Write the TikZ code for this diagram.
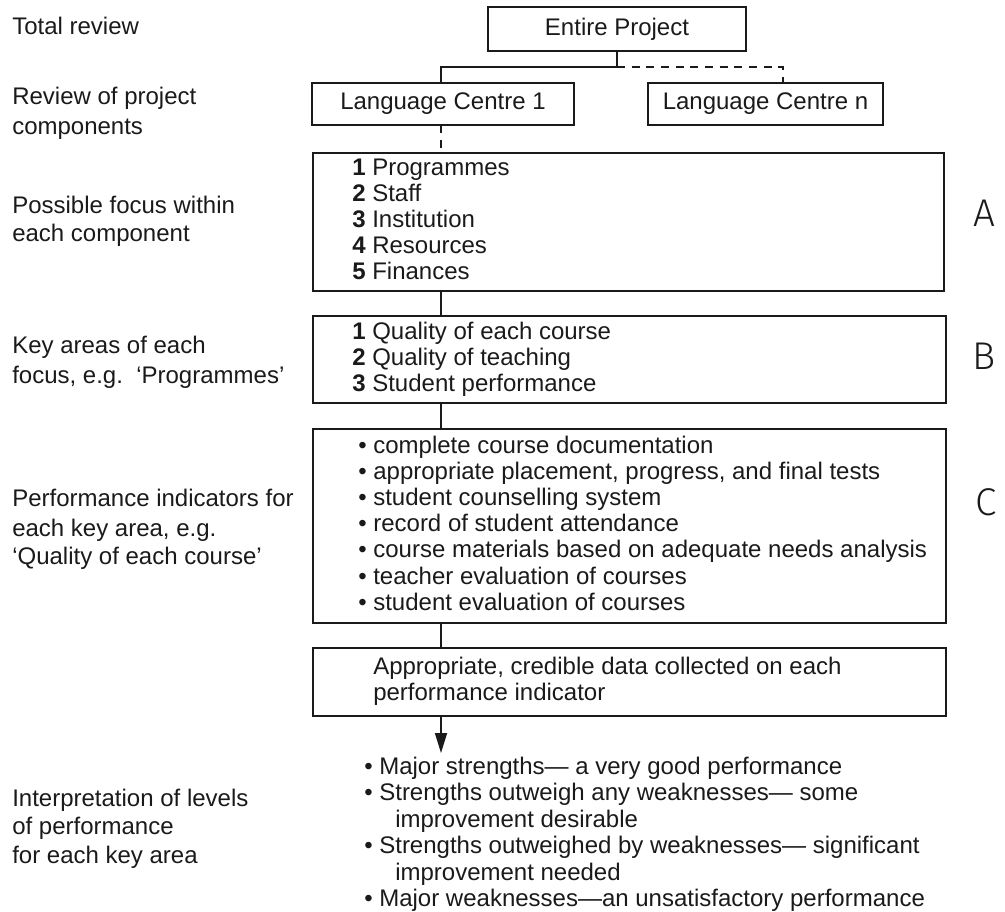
\documentclass[tikz,border=0pt]{standalone}
\usepackage{fontspec}
\setmainfont{Liberation Sans}
\newfontfamily\handfont{Fira Sans Light}
\usetikzlibrary{arrows.meta,fit}
\definecolor{ink}{HTML}{1A1A1A}
\newcommand\txtsize{\fontsize{18pt}{20pt}\selectfont}

\begin{document}
\begin{tikzpicture}[x=0.75pt,y=-0.75pt,
  box/.style={draw=ink,line width=1.2pt,inner sep=0pt,outer sep=0pt},
  conn/.style={draw=ink,line width=1.2pt},
  dashconn/.style={draw=ink,line width=1.2pt,dash pattern=on 6pt off 5pt},
  txt/.style={text=ink,inner sep=0pt,font=\txtsize},
  linetxt/.style={txt,anchor=base west},
  hand/.style={text=ink,inner sep=0pt,font=\handfont\fontsize{29pt}{30pt}\selectfont}]
\useasboundingbox (0,0) rectangle (1005,911);

% ---- boxes of the hierarchy ----
\node[box,fit={(488,7)(746,51)}] (ep) {};
\node[txt] (eptext) at (ep.center) {Entire Project};
\node[box,fit={(312,83)(574,125)}] (lc1) {};
\node[txt] (lc1text) at (lc1.center) {Language Centre 1};
\node[box,fit={(648,83)(883,125)}] (lcn) {};
\node[txt] (lcntext) at (lcn.center) {Language Centre n};
\node[box,fit={(313,153)(944,291)}] (boxa) {};
\node[box,fit={(313,316)(946,403)}] (boxb) {};
\node[box,fit={(313,429)(946,623)}] (boxc) {};
\node[box,fit={(313,648)(946,716)}] (boxd) {};

% ---- connectors ----
\coordinate (jx) at (441,67);
\coordinate (jn) at (783,67);
\coordinate (sx) at (441,0);
\coordinate (tip) at (441,753);
\draw[conn] (ep.south) |- (jx) -- (jx |- lc1.north);
\draw[dashconn] (ep.south |- jx) -- (jn) -- (jn |- lcn.north);
\draw[dashconn] (jx |- lc1.south) -- (jx |- boxa.north);
\draw[conn] (sx |- boxa.south) -- (sx |- boxb.north);
\draw[conn] (sx |- boxb.south) -- (sx |- boxc.north);
\draw[conn] (sx |- boxc.south) -- (sx |- boxd.north);
\draw[conn,-{Triangle[length=15pt,width=9pt]}] (sx |- boxd.south) -- (tip);

% ---- box contents ----
\foreach \n/\t [count=\i] in {1/Programmes,2/Staff,3/Institution,4/Resources,5/Finances}
  \node[linetxt] (a\i) at (352,{175.5+26*(\i-1)}) {\textbf{\n} \t};
\foreach \n/\t [count=\i] in {1/Quality of each course,2/Quality of teaching,3/Student performance}
  \node[linetxt] (b\i) at (352,{339.5+26*(\i-1)}) {\textbf{\n} \t};
\foreach \t [count=\i] in {complete course documentation,
    {appropriate placement, progress, and final tests},
    student counselling system,
    record of student attendance,
    course materials based on adequate needs analysis,
    teacher evaluation of courses,
    student evaluation of courses}
  \node[linetxt] (c\i) at (358,{453+26.2*(\i-1)}) {\textbullet\ \t};
\node[linetxt] (d1) at (373,674) {Appropriate, credible data collected on each};
\node[linetxt] (d2) at (373,700) {performance indicator};

% ---- levels of performance ----
\node[linetxt] (e1) at (364,774) {\textbullet\ Major strengths— a very good performance};
\node[linetxt] (e2) at (364,800.5) {\textbullet\ Strengths outweigh any weaknesses— some};
\node[linetxt] (e3) at (395,827) {improvement desirable};
\node[linetxt] (e4) at (364,853.5) {\textbullet\ Strengths outweighed by weaknesses— significant};
\node[linetxt] (e5) at (395,880) {improvement needed};
\node[linetxt] (e6) at (364,906) {\textbullet\ Major weaknesses—an unsatisfactory performance};

% ---- left-hand level labels ----
\node[linetxt] (l1) at (12,34) {Total review};
\node[linetxt] (l2a) at (12,104) {Review of project};
\node[linetxt] (l2b) at (12,134) {components};
\node[linetxt] (l3a) at (12,213) {Possible focus within};
\node[linetxt] (l3b) at (12,241) {each component};
\node[linetxt] (l4a) at (12,353) {Key areas of each};
\node[linetxt] (l4b) at (12,383) {focus, e.g.\ \ ‘Programmes’};
\node[linetxt] (l5a) at (12,506) {Performance indicators for};
\node[linetxt] (l5b) at (12,536) {each key area, e.g.};
\node[linetxt] (l5c) at (12,564) {‘Quality of each course’};
\node[linetxt] (l6a) at (12,806) {Interpretation of levels};
\node[linetxt] (l6b) at (12,834) {of performance};
\node[linetxt] (l6c) at (12,863) {for each key area};

% ---- hand-written tier marks ----
\node[hand] (ma) at (984,213) {A};
\node[hand] (mb) at (984,356) {B};
\node[hand] (mc) at (986,502) {C};
\end{tikzpicture}
\end{document}
